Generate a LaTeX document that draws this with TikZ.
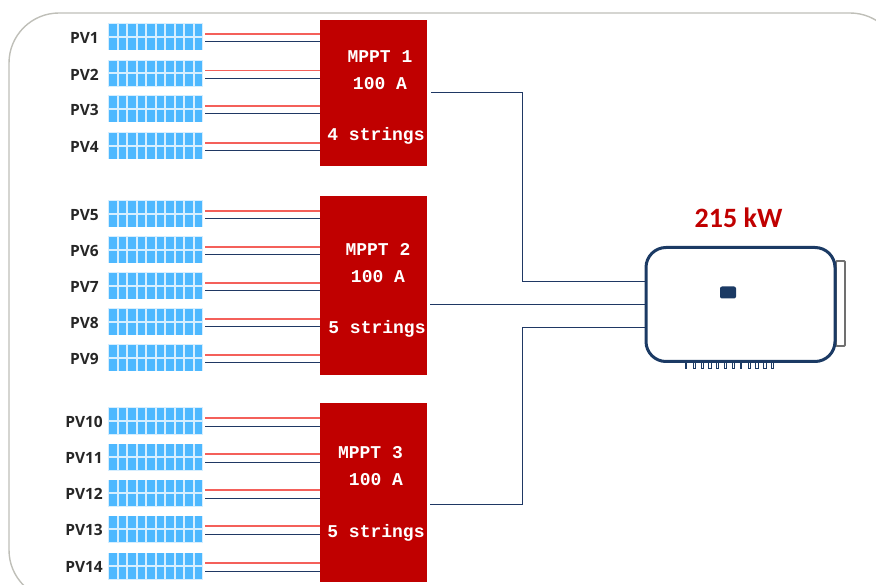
\documentclass[tikz,border=0pt]{standalone}
\usepackage{fontspec}
\setmainfont{Carlito}
\newfontfamily\pvfont{Open Sans}
\newfontfamily\mpptfont{Liberation Mono}
\definecolor{cellblue}{HTML}{4DB8FF}
\definecolor{gridblue}{HTML}{D5EEFF}
\definecolor{mpptred}{HTML}{C00000}
\definecolor{wirered}{HTML}{F4605A}
\definecolor{wirenavy}{HTML}{1F3864}
\definecolor{invnavy}{HTML}{1B3A64}
\definecolor{framegray}{HTML}{BFBFB8}
\definecolor{labelblack}{HTML}{262626}
\definecolor{handlegray}{HTML}{707070}
\tikzset{
  x=1pt,y=-1pt,
  panelbox/.style={inner sep=0pt,minimum width=95pt,minimum height=27pt,fill=gridblue,draw=none},
  pvlabel/.style={font=\pvfont\bfseries\fontsize{15.5}{15.5}\selectfont,text=labelblack,anchor=east,inner sep=0pt},
  mpptbox/.style={fill=mpptred,draw=none,inner sep=0pt,minimum width=107pt},
  mppttext/.style={font=\mpptfont\bfseries\fontsize{18}{18}\selectfont,text=white,inner sep=0pt},
  plus/.style={draw=wirered,line width=1.1pt},
  minus/.style={draw=wirenavy,line width=1pt},
  trunk/.style={draw=wirenavy,line width=1pt},
  tooth/.style={draw=invnavy,line width=0.8pt,fill=white},
}
\begin{document}
\begin{tikzpicture}
\useasboundingbox (0,0) rectangle (876,585);
\begin{scope}
\clip (0,0) rectangle (876,585);
\draw[framegray,line width=1.4pt,rounded corners=50pt] (9,13) rectangle (900,600);
\end{scope}
% MPPT boxes
\node[mpptbox,minimum height=146pt] (m1) at (373.5,93) {};
\node[mpptbox,minimum height=179pt] (m2) at (373.5,286) {};
\node[mpptbox,minimum height=179pt] (m3) at (373.5,492.5) {};
% PV panels and wires
\foreach \n/\yy/\m/\lx in {1/37/m1/99,2/73.5/m1/99,3/109/m1/99,4/146/m1/99,
  5/214/m2/99,6/250/m2/99,7/286/m2/99,8/322/m2/99,9/358/m2/99,
  10/421/m3/103,11/457/m3/103,12/493/m3/103,13/529/m3/103,14/566/m3/103}{
  \node[panelbox] (p\n) at (155.5,\yy) {};
  \foreach \c in {0,...,9}{
    \fill[cellblue] (109+9.5*\c,\yy-12.6) rectangle ++(7.7,11.6);
    \fill[cellblue] (109+9.5*\c,\yy+1) rectangle ++(7.7,11.6);
  }
  \node[pvlabel] (l\n) at (\lx,\yy+1) {PV\n};
  \coordinate (r\n) at ([xshift=2pt,yshift=3pt]p\n.east);
  \coordinate (b\n) at ([xshift=2pt,yshift=-5pt]p\n.east);
  \draw[plus] (r\n) -- (r\n -| \m.west);
  \draw[minus] (b\n) -- (b\n -| \m.west);
}
% MPPT text
\node[mppttext] (t1a) at (380,56.5) {MPPT 1};
\node[mppttext] (t1b) at (380,83.5) {100 A};
\node[mppttext] (t1c) at (376,136) {4 strings};
\node[mppttext] (t2a) at (378,249.5) {MPPT 2};
\node[mppttext] (t2b) at (378,276.5) {100 A};
\node[mppttext] (t2c) at (377,329) {5 strings};
\node[mppttext] (t3a) at (370.5,452.5) {MPPT 3};
\node[mppttext] (t3b) at (376,479.5) {100 A};
\node[mppttext] (t3c) at (376,533) {5 strings};
% Inverter
\node[draw=handlegray,fill=white,line width=1.8pt,rounded corners=1pt,inner sep=0pt,minimum width=9pt,minimum height=85pt] (handle) at (840.5,303.5) {};
\foreach \c/\st in {0/1,1/0,2/0,3/0,4/0,5/0,6/0,7/1,8/0,9/0,10/0,11/0}{
  \ifnum\st=1
    \fill[invnavy] (684.8+7.85*\c,361) rectangle ++(2.2,8);
  \else
    \draw[tooth] (685.2+7.85*\c,361) rectangle ++(2.2,7.5);
  \fi
}
\node[draw=invnavy,fill=white,line width=3pt,rounded corners=20pt,inner sep=0pt,minimum width=189pt,minimum height=114pt] (inv) at (740.5,304.5) {};
\node[fill=invnavy,rounded corners=2pt,inner sep=0pt,minimum width=16pt,minimum height=12pt] (led) at (728,292.5) {};
\node[font=\bfseries\fontsize{28}{28}\selectfont,text=mpptred,inner sep=0pt] (power) at (738.5,218) {215 kW};
% Trunks
\coordinate (o1) at (431,92.5);
\coordinate (o2) at (430,305);
\coordinate (o3) at (430,504.5);
\coordinate (bend1) at (522.5,92.5);
\coordinate (bend1b) at (522.5,282);
\coordinate (bend3) at (522.5,504.5);
\coordinate (bend3b) at (522.5,328);
\draw[trunk] (o1) -- (bend1) -- (bend1b) -- (bend1b -| inv.west);
\draw[trunk] (o2) -- (o2 -| inv.west);
\draw[trunk] (o3) -- (bend3) -- (bend3b) -- (bend3b -| inv.west);
\end{tikzpicture}
\end{document}
